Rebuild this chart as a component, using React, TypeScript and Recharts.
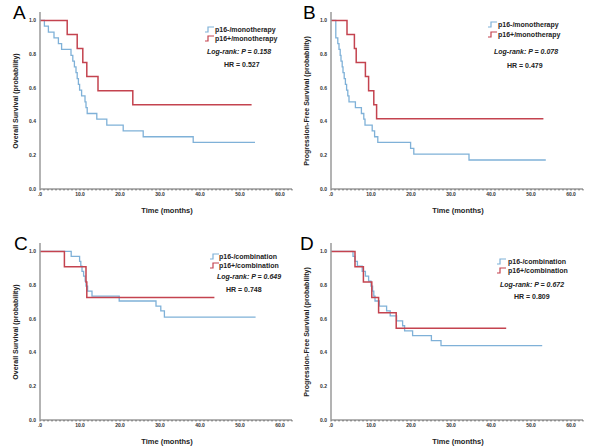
import React from "react"
import { Line, LineChart, XAxis, YAxis } from "recharts"

// A: overall survival, monotherapy
const aNegTime = [0, 1.1, 2.1, 3.5, 4.6, 5.4, 7.75, 8.2, 8.6, 9.0, 9.3, 9.6, 9.9, 10.4, 11.25, 11.5, 11.8, 14.2, 16.7, 20.8, 25.8, 38.3, 53.75]
const aNegSurv = [1.0, 0.966, 0.931, 0.897, 0.862, 0.828, 0.793, 0.759, 0.724, 0.69, 0.655, 0.621, 0.586, 0.552, 0.517, 0.483, 0.448, 0.414, 0.379, 0.345, 0.31, 0.276, 0.276]
const aPosTime = [0, 6.8, 9.3, 10.7, 11.7, 14.5, 23.2, 52.9]
const aPosSurv = [1.0, 0.917, 0.833, 0.75, 0.667, 0.583, 0.5, 0.5]

// B: progression-free survival, monotherapy
const bNegTime = [0, 1.2, 1.7, 2.0, 2.3, 2.5, 2.8, 3.0, 3.3, 3.6, 3.9, 4.2, 4.5, 6.1, 7.6, 8.2, 8.5, 10.3, 10.9, 11.7, 19.9, 20.7, 34.5, 53.7]
const bNegSurv = [1.0, 0.897, 0.862, 0.828, 0.793, 0.759, 0.724, 0.69, 0.655, 0.621, 0.586, 0.552, 0.517, 0.483, 0.448, 0.414, 0.379, 0.345, 0.31, 0.276, 0.241, 0.207, 0.172, 0.172]
const bPosTime = [0, 4.0, 5.85, 6.3, 8.6, 9.4, 10.7, 11.4, 53.1]
const bPosSurv = [1.0, 0.917, 0.833, 0.75, 0.667, 0.583, 0.5, 0.417, 0.417]

// C: overall survival, combination
const cNegTime = [0, 7.8, 9.9, 10.2, 10.5, 10.9, 11.3, 11.5, 11.9, 13.0, 19.8, 29.0, 30.2, 31.1, 53.9]
const cNegSurv = [1.0, 0.971, 0.941, 0.912, 0.882, 0.853, 0.824, 0.794, 0.765, 0.735, 0.706, 0.676, 0.647, 0.61, 0.61]
const cPosTime = [0, 6.1, 11.5, 11.7, 43.6]
const cPosSurv = [1.0, 0.909, 0.818, 0.727, 0.727]

// D: progression-free survival, combination
const dNegTime = [0, 5.5, 6.0, 6.6, 7.8, 8.6, 9.4, 10.0, 10.4, 10.7, 11.0, 12.1, 13.9, 14.8, 16.4, 17.9, 18.4, 20.4, 25.1, 27.5, 52.8]
const dNegSurv = [1.0, 0.971, 0.941, 0.912, 0.882, 0.853, 0.824, 0.794, 0.765, 0.735, 0.706, 0.676, 0.647, 0.618, 0.588, 0.559, 0.529, 0.5, 0.471, 0.441, 0.441]
const dPosTime = [0, 6.0, 8.1, 10.2, 11.9, 16.3, 43.8]
const dPosSurv = [1.0, 0.909, 0.818, 0.727, 0.636, 0.545, 0.545]

const xTickValues = [0, 10, 20, 30, 40, 50, 60]
const xTickLabels = [".0", "10.0", "20.0", "30.0", "40.0", "50.0", "60.0"]
const yTickValues = [0, 0.2, 0.4, 0.6, 0.8, 1.0]
const yTickLabels = ["0.0", "0.2", "0.4", "0.6", "0.8", "1.0"]
const minorTicks = Array.from({ length: 64 }, (_, i) => i)

const BLUE = "#7fb1d8"
const RED = "#c4434f"
const FONT = "'Liberation Sans', Arial, sans-serif"

const toPoints = (times: number[], surv: number[]) => times.map((t, i) => ({ t, s: surv[i] }))

type PanelProps = {
  letter: string
  left: number
  top: number
  yLabel: string
  negName: string
  posName: string
  pText: string
  hrText: string
  neg: { t: number; s: number }[]
  pos: { t: number; s: number }[]
  legend: { icon: number; text: number; y1: number; y2: number; pX: number; pY: number; hrX: number; hrY: number }
  letterX: number
}

function StepIcon({ color }: { color: string }) {
  return (
    <svg width={9} height={7} style={{ position: "absolute", left: 0, top: 0 }}>
      <polyline points="0,6 3,6 3,1 9,1" fill="none" stroke={color} strokeWidth={1.2} />
    </svg>
  )
}

function Panel(p: PanelProps) {
  const txt: React.CSSProperties = {
    position: "absolute",
    fontFamily: FONT,
    fontWeight: 700,
    fontSize: 7,
    lineHeight: "8px",
    color: "#222",
    whiteSpace: "nowrap",
  }
  const lg = p.legend
  return (
    <div style={{ position: "absolute", left: p.left, top: p.top, width: 300, height: 220 }}>
      <LineChart width={300} height={220} margin={{ top: 12, right: 8, bottom: 21, left: 0 }}>
        <XAxis
          type="number"
          dataKey="t"
          domain={[0, 63]}
          ticks={minorTicks}
          interval={0}
          height={10}
          axisLine={{ stroke: "#9a9a9a", strokeWidth: 1.5 }}
          tickLine={{ stroke: "#666" }}
          tickSize={1.5}
          tickMargin={2}
          tick={{ fontSize: 5, fontWeight: 700, fill: "#333", fontFamily: FONT }}
          tickFormatter={(v: number) => {
            const i = xTickValues.indexOf(v)
            return i >= 0 ? xTickLabels[i] : ""
          }}
        />
        <YAxis
          type="number"
          dataKey="s"
          domain={[0, 1.05]}
          ticks={yTickValues}
          width={40}
          axisLine={{ stroke: "#9a9a9a", strokeWidth: 1.5 }}
          tickLine={false}
          tickSize={0}
          tickMargin={4}
          tick={{ fontSize: 5, fontWeight: 700, fill: "#333", fontFamily: FONT }}
          tickFormatter={(v: number) => {
            const i = yTickValues.indexOf(v)
            return i >= 0 ? yTickLabels[i] : ""
          }}
        />
        <Line data={p.neg} dataKey="s" type="stepAfter" stroke={BLUE} strokeWidth={1.3} dot={false} isAnimationActive={false} />
        <Line data={p.pos} dataKey="s" type="stepAfter" stroke={RED} strokeWidth={1.5} dot={false} isAnimationActive={false} />
      </LineChart>

      <div style={{ position: "absolute", left: p.letterX, top: 3, fontFamily: FONT, fontSize: 19, lineHeight: "19px", color: "#000" }}>
        {p.letter}
      </div>

      <div
        style={{
          ...txt,
          left: 16 - 100,
          top: 101 - 4,
          width: 200,
          textAlign: "center",
          transform: "rotate(-90deg)",
        }}
      >
        {p.yLabel}
      </div>
      <div style={{ ...txt, left: 167 - 50, top: 207, width: 100, textAlign: "center", fontSize: 7.5 }}>Time (months)</div>

      <div style={{ position: "absolute", left: lg.icon, top: lg.y1 - 4 }}>
        <StepIcon color={BLUE} />
      </div>
      <div style={{ ...txt, left: lg.text, top: lg.y1 - 4 }}>{p.negName}</div>
      <div style={{ position: "absolute", left: lg.icon, top: lg.y2 - 4 }}>
        <StepIcon color={RED} />
      </div>
      <div style={{ ...txt, left: lg.text, top: lg.y2 - 4 }}>{p.posName}</div>
      <div style={{ ...txt, left: lg.pX, top: lg.pY - 4, fontStyle: "italic" }}>{p.pText}</div>
      <div style={{ ...txt, left: lg.hrX, top: lg.hrY - 4 }}>{p.hrText}</div>
    </div>
  )
}

export default function App() {
  return (
    <div style={{ position: "absolute", left: 0, top: 0, width: 600, height: 447, background: "#fff", overflow: "hidden" }}>
      <Panel
        letter="A"
        letterX={13}
        left={0}
        top={0}
        yLabel="Overall Survival (probability)"
        negName="p16-/monotherapy"
        posName="p16+/monotherapy"
        pText="Log-rank: P = 0.158"
        hrText="HR = 0.527"
        neg={toPoints(aNegTime, aNegSurv)}
        pos={toPoints(aPosTime, aPosSurv)}
        legend={{ icon: 205, text: 215, y1: 30, y2: 39, pX: 207, pY: 52, hrX: 224, hrY: 65 }}
      />
      <Panel
        letter="B"
        letterX={12}
        left={291}
        top={0}
        yLabel="Progression-Free Survival (probability)"
        negName="p16-/monotherapy"
        posName="p16+/monotherapy"
        pText="Log-rank: P = 0.078"
        hrText="HR = 0.479"
        neg={toPoints(bNegTime, bNegSurv)}
        pos={toPoints(bPosTime, bPosSurv)}
        legend={{ icon: 197, text: 207, y1: 25, y2: 35, pX: 203, pY: 52, hrX: 216, hrY: 66 }}
      />
      <Panel
        letter="C"
        letterX={14}
        left={0}
        top={231}
        yLabel="Overall Survival (probability)"
        negName="p16-/combination"
        posName="p16+/combination"
        pText="Log-rank: P = 0.649"
        hrText="HR = 0.748"
        neg={toPoints(cNegTime, cNegSurv)}
        pos={toPoints(cPosTime, cPosSurv)}
        legend={{ icon: 210, text: 219, y1: 26, y2: 35, pX: 217, pY: 46, hrX: 226, hrY: 59 }}
      />
      <Panel
        letter="D"
        letterX={9}
        left={291}
        top={231}
        yLabel="Progression-Free Survival (probability)"
        negName="p16-/combination"
        posName="p16+/combination"
        pText="Log-rank: P = 0.672"
        hrText="HR = 0.809"
        neg={toPoints(dNegTime, dNegSurv)}
        pos={toPoints(dPosTime, dPosSurv)}
        legend={{ icon: 206, text: 217, y1: 31, y2: 40, pX: 209, pY: 54, hrX: 223, hrY: 66 }}
      />
    </div>
  )
}
